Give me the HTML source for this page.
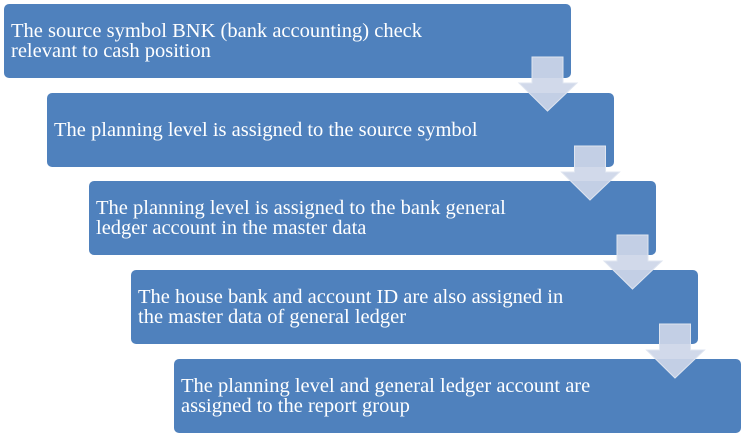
<!DOCTYPE html>
<html><head><style>
html,body{margin:0;padding:0;background:#fff;width:745px;height:436px;overflow:hidden}
.b{position:absolute;width:567px;height:74px;background:#4f81bd;border-radius:5px;color:#fff;font-family:"Liberation Serif",serif;font-size:20.5px;line-height:20px;display:flex;align-items:center;padding-left:7px;box-sizing:border-box}
svg{position:absolute;left:0;top:0}
</style></head><body>
<div class="b" style="left:4px;top:4px">The source symbol BNK (bank accounting) check<br>relevant to cash position</div>
<div class="b" style="left:47px;top:93px">The planning level is assigned to the source symbol</div>
<div class="b" style="left:89px;top:181px">The planning level is assigned to the bank general<br>ledger account in the master data</div>
<div class="b" style="left:131px;top:270px">The house bank and account ID are also assigned in<br>the master data of general ledger</div>
<div class="b" style="left:174px;top:359px">The planning level and general ledger account are<br>assigned to the report group</div>
<svg width="745" height="436">
<defs><path id="a" d="M532 57 H563 V83 H577 L547.5 111 L519 83 H532 Z" fill="#cdd6e8" fill-opacity="0.92" stroke="#dfe5f0" stroke-width="1"/></defs>
<use href="#a"/>
<use href="#a" x="42.5" y="89"/>
<use href="#a" x="85" y="178"/>
<use href="#a" x="127.5" y="267"/>
</svg>
</body></html>
